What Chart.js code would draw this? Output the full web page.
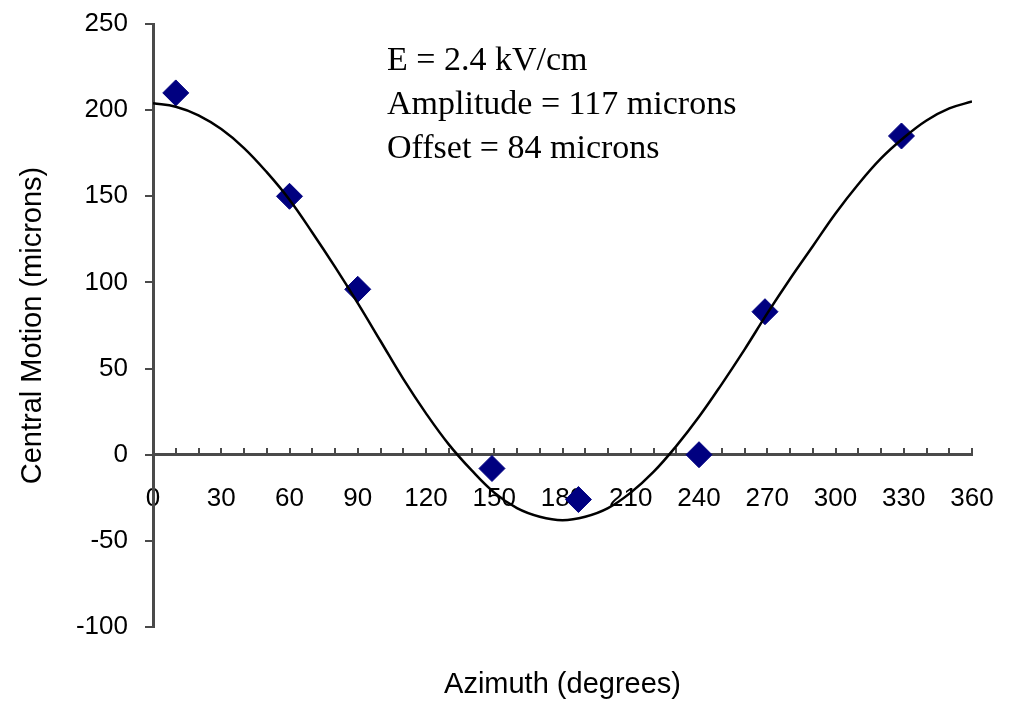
<!DOCTYPE html>
<html>
<head>
<meta charset="utf-8">
<script src="https://cdn.jsdelivr.net/npm/chart.js@4/dist/chart.umd.min.js"></script>
<style>
html, body { margin: 0; padding: 0; background: #ffffff; }
canvas { display: block; }
</style>
</head>
<body>
<canvas id="c" width="1010" height="702"></canvas>
<script>
// Measured data points (azimuth in degrees, central motion in microns)
const pointAzimuth = [10, 60, 90, 149, 187, 240, 269, 329];
const pointMotion  = [210, 150, 96, -8, -26, 0, 83, 185];

// Fitted curve
const curveAzimuth = [0, 10, 20, 30, 40, 50, 60, 70, 80, 90, 100, 110, 120, 130, 140, 150, 160, 170, 180,
                      190, 200, 210, 220, 230, 240, 250, 260, 270, 280, 290, 300, 310, 320, 330, 340, 350, 360];
const curveMotion  = [204, 202, 197, 189, 178, 164, 148, 129, 109, 88, 66, 44, 24, 6, -9, -22, -31, -36, -38,
                      -36, -31, -22, -10, 5, 22, 41, 61, 82, 102, 121, 140, 157, 172, 184, 194, 201, 205];

const xTickLabels = [0, 30, 60, 90, 120, 150, 180, 210, 240, 270, 300, 330, 360];
const yTickValues = [-100, -50, 0, 50, 100, 150, 200, 250];
const noteLines = ['E = 2.4 kV/cm', 'Amplitude = 117 microns', 'Offset = 84 microns'];

const axisColor = '#4a4a4a';
const sans = '"Liberation Sans", Arial, sans-serif';

const notePlugin = {
  id: 'notes',
  afterDraw(chart) {
    const ctx = chart.ctx;
    ctx.save();
    ctx.fillStyle = '#000000';
    ctx.font = '34px "Liberation Serif", "Times New Roman", serif';
    ctx.textAlign = 'left';
    ctx.textBaseline = 'alphabetic';
    const baselines = [70, 114, 158];
    noteLines.forEach((t, i) => ctx.fillText(t, 387, baselines[i]));
    ctx.restore();
  }
};

new Chart(document.getElementById('c'), {
  type: 'scatter',
  data: {
    datasets: [
      {
        label: 'Fit',
        data: curveAzimuth.map((x, i) => ({ x: x, y: curveMotion[i] })),
        showLine: true,
        borderColor: '#000000',
        borderWidth: 2.5,
        pointRadius: 0,
        tension: 0.4,
        fill: false
      },
      {
        label: 'Data',
        data: pointAzimuth.map((x, i) => ({ x: x, y: pointMotion[i] })),
        showLine: false,
        pointStyle: 'rectRot',
        pointRadius: 13,
        pointBackgroundColor: '#000080',
        pointBorderColor: '#000080',
        pointBorderWidth: 1
      }
    ]
  },
  options: {
    responsive: false,
    animation: false,
    devicePixelRatio: 1,
    layout: { padding: { top: 24, right: 38, bottom: 0, left: 0 } },
    plugins: { legend: { display: false }, tooltip: { enabled: false } },
    scales: {
      x: {
        type: 'linear',
        position: { y: 0 },
        min: 0, max: 360,
        grid: { drawOnChartArea: false, drawTicks: true, tickLength: -8, color: axisColor, lineWidth: 2 },
        border: { display: true, color: axisColor, width: 3 },
        ticks: {
          stepSize: 10, autoSkip: false, maxRotation: 0, minRotation: 0,
          padding: 37, color: '#000000',
          font: { family: sans, size: 26 },
          callback: (v) => xTickLabels.includes(v) ? String(v) : ''
        },
        afterFit: (s) => { s.height = 0; s.paddingLeft = 0; s.paddingRight = 0; }
      },
      x2: {
        type: 'linear',
        position: 'bottom',
        min: 0, max: 360,
        grid: { display: false, drawTicks: false },
        border: { display: false },
        ticks: { display: false },
        title: { display: true, text: 'Azimuth (degrees)', color: '#000000',
                 font: { family: sans, size: 29 }, padding: { top: 0, bottom: 0 } },
        afterFit: (s) => { s.height = 75; s.paddingLeft = 0; s.paddingRight = 0; }
      },
      y: {
        type: 'linear',
        position: 'left',
        min: -100, max: 250,
        afterBuildTicks: (s) => { s.ticks = yTickValues.map(v => ({ value: v })); },
        grid: { drawOnChartArea: false, drawTicks: true, tickLength: 8, color: axisColor, lineWidth: 2 },
        border: { display: true, color: axisColor, width: 3 },
        ticks: { padding: 17, color: '#000000', font: { family: sans, size: 26 } },
        title: { display: true, text: 'Central Motion (microns)', color: '#000000',
                 font: { family: sans, size: 29 }, padding: { top: 16, bottom: 0 } },
        afterFit: (s) => { s.width = 153; s.paddingTop = 0; s.paddingBottom = 0; }
      }
    }
  },
  plugins: [notePlugin]
});
</script>
</body>
</html>
